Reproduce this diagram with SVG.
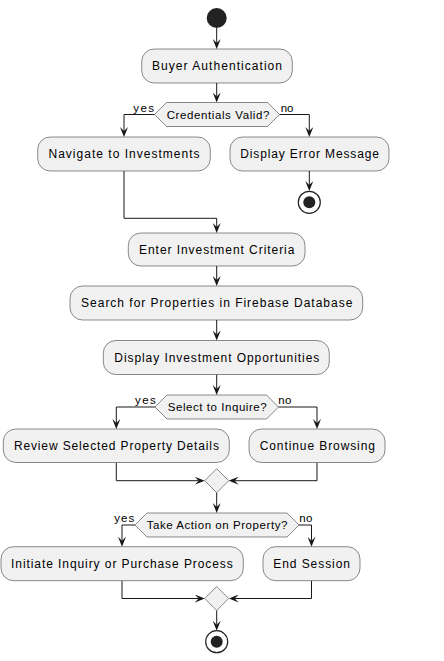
<svg xmlns="http://www.w3.org/2000/svg" width="444" height="661" viewBox="0 0 444 661">
<style>
.box{fill:#F1F1F1;stroke:#181818;stroke-width:0.5}
.hex{fill:#F1F1F1;stroke:#181818;stroke-width:0.5}
.t{font-family:"Liberation Sans",Arial,sans-serif;font-size:12px;fill:#000;text-anchor:middle}
.th{font-family:"Liberation Sans",Arial,sans-serif;font-size:11.5px;fill:#000;text-anchor:middle}
.tl{font-family:"Liberation Sans",Arial,sans-serif;font-size:11.5px;fill:#000}
.c{fill:none;stroke:#181818;stroke-width:1;marker-end:url(#ah)}
</style>
<defs>
<marker id="ah" markerUnits="userSpaceOnUse" markerWidth="10" markerHeight="8" refX="4" refY="4" orient="auto" viewBox="0 0 10 8">
<path d="M0,0 L10,4 L0,8 L4,4 Z" fill="#181818"/>
</marker>
</defs>
<rect width="444" height="661" fill="#FFFFFF"/>
<g id="connectors">
<path class="c" d="M216.7,28 V43"/>
<path class="c" d="M216.7,83 V96.5"/>
<path class="c" d="M154.5,114.5 H124 V131"/>
<path class="c" d="M279.5,114.5 H309.3 V131"/>
<path class="c" d="M124,171 V218.3 H216.7 V227"/>
<path class="c" d="M309.3,171 V185"/>
<path class="c" d="M216.7,266 V280"/>
<path class="c" d="M216.7,320 V334.5"/>
<path class="c" d="M216.7,374.5 V389"/>
<path class="c" d="M155,407 H116.3 V423"/>
<path class="c" d="M278.5,407 H317 V423"/>
<path class="c" d="M116.3,462.5 V480.7 H198.7"/>
<path class="c" d="M317,462.5 V480.7 H234.7"/>
<path class="c" d="M216.7,492.7 V507"/>
<path class="c" d="M135,525 H122 V540.7"/>
<path class="c" d="M299,525 H311.5 V540.7"/>
<path class="c" d="M122,580.7 V598.5 H198.7"/>
<path class="c" d="M311.5,580.7 V598.5 H234.7"/>
<path class="c" d="M216.7,610.5 V624.7"/>
<text class="tl" x="133.3" y="111.7" textLength="20.7" lengthAdjust="spacing">yes</text>
<text class="tl" x="280.7" y="111.7" textLength="12.7" lengthAdjust="spacing">no</text>
<text class="tl" x="135" y="404" textLength="20.7" lengthAdjust="spacing">yes</text>
<text class="tl" x="278.3" y="404" textLength="13" lengthAdjust="spacing">no</text>
<text class="tl" x="114.3" y="521.7" textLength="20" lengthAdjust="spacing">yes</text>
<text class="tl" x="299.3" y="521.7" textLength="13" lengthAdjust="spacing">no</text>
</g>
<g id="start"><circle cx="216.7" cy="18" r="10" fill="#222222"/></g>
<g id="buyer_auth"><rect class="box" x="141.7" y="49" width="150.6" height="34" rx="12.5"/><text class="t" x="217" y="70.2" textLength="130" lengthAdjust="spacing">Buyer Authentication</text></g>
<g id="credentials_valid"><polygon class="hex" points="166.5,102.5 267.5,102.5 279.5,114.5 267.5,126.5 166.5,126.5 154.5,114.5"/><text class="th" x="218" y="118.7" textLength="102.7" lengthAdjust="spacing">Credentials Valid?</text></g>
<g id="navigate"><rect class="box" x="37.7" y="137" width="172.6" height="34" rx="12.5"/><text class="t" x="124" y="158.2" textLength="151" lengthAdjust="spacing">Navigate to Investments</text></g>
<g id="display_error"><rect class="box" x="230" y="137" width="159" height="34" rx="12.5"/><text class="t" x="309.6" y="158.2" textLength="138.7" lengthAdjust="spacing">Display Error Message</text></g>
<g id="stop1"><circle cx="309.3" cy="202.3" r="11" fill="#FFFFFF" stroke="#222222" stroke-width="1.2"/><circle cx="309.3" cy="202.3" r="6" fill="#222222"/></g>
<g id="enter_criteria"><rect class="box" x="128.3" y="233" width="176.7" height="33" rx="12.5"/><text class="t" x="216.7" y="253.8" textLength="155.3" lengthAdjust="spacing">Enter Investment Criteria</text></g>
<g id="search"><rect class="box" x="70" y="286" width="292.7" height="34" rx="12.5"/><text class="t" x="216.7" y="307.3" textLength="271.3" lengthAdjust="spacing">Search for Properties in Firebase Database</text></g>
<g id="display_opps"><rect class="box" x="103.3" y="340.5" width="226" height="34" rx="12.5"/><text class="t" x="216.8" y="361.7" textLength="205" lengthAdjust="spacing">Display Investment Opportunities</text></g>
<g id="select_inquire"><polygon class="hex" points="167,395 266.5,395 278.5,407 266.5,419 167,419 155,407"/><text class="th" x="217.2" y="410.8" textLength="99" lengthAdjust="spacing">Select to Inquire?</text></g>
<g id="review"><rect class="box" x="3.3" y="429" width="226" height="33.5" rx="12.5"/><text class="t" x="116.4" y="450" textLength="205" lengthAdjust="spacing">Review Selected Property Details</text></g>
<g id="continue"><rect class="box" x="249" y="429" width="136" height="33.5" rx="12.5"/><text class="t" x="317.3" y="450" textLength="115.3" lengthAdjust="spacing">Continue Browsing</text></g>
<g id="merge1"><polygon class="hex" points="216.7,468.7 228.7,480.7 216.7,492.7 204.7,480.7"/></g>
<g id="take_action"><polygon class="hex" points="147,513 287,513 299,525 287,537 147,537 135,525"/><text class="th" x="217" y="528.9" textLength="140.7" lengthAdjust="spacing">Take Action on Property?</text></g>
<g id="initiate"><rect class="box" x="1" y="546.7" width="242.3" height="34" rx="12.5"/><text class="t" x="121.9" y="567.7" textLength="221.7" lengthAdjust="spacing">Initiate Inquiry or Purchase Process</text></g>
<g id="end_session"><rect class="box" x="263" y="546.7" width="97" height="34" rx="12.5"/><text class="t" x="311.6" y="567.7" textLength="76.7" lengthAdjust="spacing">End Session</text></g>
<g id="merge2"><polygon class="hex" points="216.7,586.5 228.7,598.5 216.7,610.5 204.7,598.5"/></g>
<g id="stop2"><circle cx="216.7" cy="641.7" r="11" fill="#FFFFFF" stroke="#222222" stroke-width="1.2"/><circle cx="216.7" cy="641.7" r="6" fill="#222222"/></g>
</svg>
